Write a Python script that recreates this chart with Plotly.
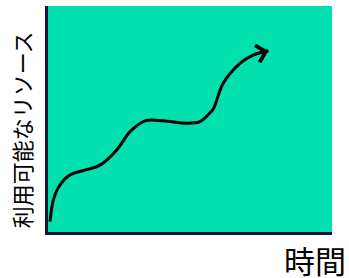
import plotly.graph_objects as go

# Curve of available resources over time (data units 0-10)
time_vals = [0.07, 0.19, 0.42, 0.77, 1.30, 1.83, 2.42, 2.89, 3.42, 4.05, 4.88, 5.35, 5.70, 5.82, 6.17, 6.76, 7.22, 7.76]
resource_vals = [0.46, 1.42, 2.08, 2.52, 2.74, 2.96, 3.63, 4.44, 4.92, 4.92, 4.81, 4.88, 5.27, 5.44, 6.58, 7.46, 7.83, 8.02]

x_title = "時間"
y_title = "利用可能なリソース"

FONT = "Noto Sans CJK JP, Noto Sans, sans-serif"

fig = go.Figure()
fig.add_trace(go.Scatter(
    x=time_vals, y=resource_vals, mode="lines",
    line=dict(color="black", width=3, shape="spline", smoothing=1.0),
    hoverinfo="skip", showlegend=False,
))

# Arrow head at the end of the curve
fig.add_annotation(
    x=time_vals[-1], y=resource_vals[-1],
    ax=time_vals[-2], ay=resource_vals[-2],
    xref="x", yref="y", axref="x", ayref="y",
    showarrow=True, arrowhead=4, arrowsize=1.3, arrowwidth=2.6,
    arrowcolor="black", text="",
)

# Axis titles as annotations
fig.add_annotation(
    text=y_title, textangle=-90, showarrow=False,
    xref="paper", yref="paper", x=-0.095, y=0.45,
    xanchor="center", yanchor="middle",
    font=dict(family=FONT, size=22, color="black"),
)
fig.add_annotation(
    text=x_title, showarrow=False,
    xref="paper", yref="paper", x=1.055, y=-0.012,
    xanchor="right", yanchor="top",
    font=dict(family=FONT, size=31, color="black"),
)

axis_common = dict(
    range=[0, 10], showgrid=False, zeroline=False, showticklabels=False,
    ticks="", showline=True, linecolor="#14143c", linewidth=3, fixedrange=True,
)
fig.update_xaxes(**axis_common)
fig.update_yaxes(**axis_common)

fig.update_layout(
    width=349, height=278,
    margin=dict(l=48, r=17, t=6, b=46),
    plot_bgcolor="#03E0B0",
    paper_bgcolor="white",
    font=dict(family=FONT),
)

fig.write_html("out.html", config={"displayModeBar": False},
               post_script="document.body.style.margin='0';document.body.style.overflow='hidden';")
